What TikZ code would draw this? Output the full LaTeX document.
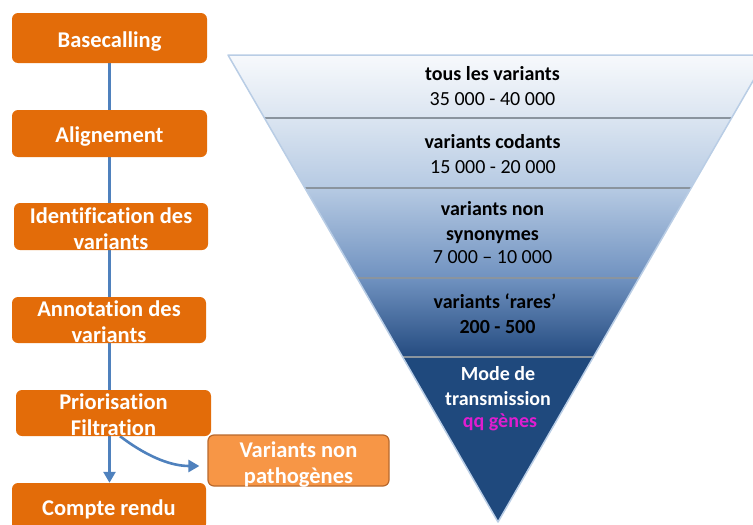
\documentclass[tikz,border=0pt]{standalone}
\usepackage{fontspec}
\setmainfont{Carlito}[Ligatures=NoCommon]
\usetikzlibrary{arrows.meta,backgrounds}

\definecolor{stageorange}{HTML}{E36C09}
\definecolor{dropfill}{HTML}{F79646}
\definecolor{dropline}{HTML}{B8682C}
\definecolor{flowblue}{HTML}{4F81BD}
\definecolor{rimblue}{HTML}{B9CDE5}
\definecolor{divgray}{HTML}{8A949E}
\definecolor{genes}{HTML}{E01DD0}
% funnel gradient stops, top to bottom
\definecolor{fA}{HTML}{F7F9FC}
\definecolor{fB}{HTML}{DBE5F1}
\definecolor{fC}{HTML}{B6CAE3}
\definecolor{fD}{HTML}{7092C0}
\definecolor{fE}{HTML}{244B80}
\definecolor{fF}{HTML}{1F497D}

\begin{document}
\begin{tikzpicture}[x=1pt,y=-1pt,
  stage/.style={fill=stageorange, rounded corners=6pt, inner sep=0pt,
    minimum width=195pt, minimum height=47pt},
  drop/.style={stage, fill=dropfill, draw=dropline, line width=1.2pt,
    minimum width=181pt, minimum height=51pt},
  stagetext/.style={inner sep=0pt, text=white, align=center,
    font=\fontsize{22.5}{26}\selectfont\bfseries},
  flow/.style={draw=flowblue, line width=2.6pt, -{Triangle[width=12pt,length=11pt]}},
  tier/.style={anchor=base, inner sep=0pt, text=black, font=\fontsize{20}{24}\selectfont},
  tierbold/.style={tier, font=\fontsize{20}{24}\selectfont\bfseries},
  divider/.style={draw=divgray, line width=1.1pt}]

\useasboundingbox (0,0) rectangle (753,525);

% ---------- filtering funnel ----------
\coordinate (tl) at (228,55);
\coordinate (tr) at (768,55);
\coordinate (apex) at (498,522);
\begin{scope}
  \clip (tl) -- (tr) -- (apex) -- cycle;
  \shade[top color=fA, bottom color=fB] (220,55) rectangle (780,118);
  \shade[top color=fB, bottom color=fC] (220,118) rectangle (780,188);
  \shade[top color=fC, bottom color=fD] (220,188) rectangle (780,278);
  \shade[top color=fD, bottom color=fE] (220,278) rectangle (780,357);
  \fill[fF] (220,357) rectangle (780,530);
  \draw[divider] (220,118) -- (780,118);
  \draw[divider] (220,188) -- (780,188);
  \draw[divider] (220,278) -- (780,278);
  \draw[divider] (220,357) -- (780,357);
\end{scope}
\draw[rimblue, line width=1.5pt, line join=round] (tl) -- (tr) -- (apex) -- cycle;

% tier labels
\node[tierbold] (t1a) at (492.5,80) {tous les variants};
\node[tier]     (t1b) at (492.5,105) {35 000 - 40 000};
\node[tierbold] (t2a) at (492.5,148) {variants codants};
\node[tier]     (t2b) at (493,173) {15 000 - 20 000};
\node[tierbold] (t3a) at (492.5,215) {variants non};
\node[tierbold] (t3b) at (492.5,240) {synonymes};
\node[tier]     (t3c) at (492.5,263) {7 000 – 10 000};
\node[tierbold] (t4a) at (495,308) {variants ‘rares’};
\node[tierbold] (t4b) at (497.5,333) {200 - 500};
\node[tierbold, text=white] (t5a) at (498,380) {Mode de};
\node[tierbold, text=white] (t5b) at (498,405) {transmission};
\node[tierbold, text=genes] (t5c) at (500,427) {qq gènes};

% ---------- pipeline ----------
\node[stage, minimum height=50pt] (base) at (109.5,38) {};
\node[stage] (align) at (109.5,133.5) {};
\node[stage, minimum width=194pt] (ident) at (111,226.5) {};
\node[stage, minimum height=46pt, minimum width=194pt] (annot) at (109,320) {};
\node[stage, minimum height=46pt] (prio) at (113.5,413) {};
\node[drop] (drop) at (298.5,460.5) {};
\node[stage, minimum width=194pt] (report) at (109,506.5) {};

\node[stagetext] (base-t)   at ([yshift=-4pt]base.center)   {Basecalling};
\node[stagetext] (align-t)  at ([yshift=-3pt]align.center)  {Alignement};
\node[stagetext] (ident-t)  at ([yshift=-2pt]ident.center)  {Identification des\\variants};
\node[stagetext] (annot-t)  at ([yshift=-1.5pt]annot.center) {Annotation des\\variants};
\node[stagetext] (prio-t)   at ([yshift=-1.5pt]prio.center)  {Priorisation\\Filtration};
\node[stagetext] (drop-t)   at ([yshift=-4.5pt]drop.center)  {Variants non\\pathogènes};
\node[stagetext] (report-t) at ([yshift=-3pt]report.center) {Compte rendu};

\coordinate (fork) at ([xshift=6.5pt]prio.south);
\coordinate (droptip) at ([xshift=-8pt,yshift=-5.5pt]drop.west);

\begin{scope}[on background layer]
  \draw[flow] (base.south) -- (base.south |- report.north);
  \draw[flow] (fork) .. controls +(25,19) and +(-30,0) .. (droptip);
\end{scope}
\end{tikzpicture}
\end{document}
